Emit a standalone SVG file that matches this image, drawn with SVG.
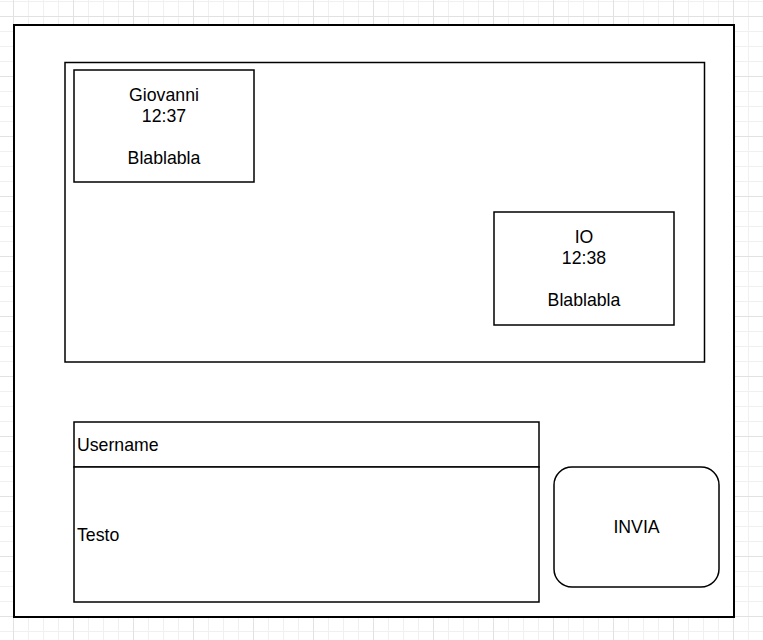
<svg xmlns="http://www.w3.org/2000/svg" width="763" height="640" viewBox="0 0 763 640">
  <style>
    .box { fill: #ffffff; stroke: #000000; stroke-width: 1.5; }
    .lbl { font-family: "Liberation Sans", Arial, sans-serif; font-size: 17.7px; fill: #000000; }
    .c { text-anchor: middle; }
  </style>
  <defs>
    <pattern id="grid" patternUnits="userSpaceOnUse" x="13" y="16" width="60" height="60">
      <rect x="0" y="0" width="60" height="60" fill="#ffffff"/>
      <rect x="15" y="0" width="1" height="60" fill="#f0f0f0"/>
      <rect x="30" y="0" width="1" height="60" fill="#f0f0f0"/>
      <rect x="45" y="0" width="1" height="60" fill="#f0f0f0"/>
      <rect x="0" y="15" width="60" height="1" fill="#f0f0f0"/>
      <rect x="0" y="30" width="60" height="1" fill="#f0f0f0"/>
      <rect x="0" y="45" width="60" height="1" fill="#f0f0f0"/>
      <rect x="0" y="0" width="1" height="60" fill="#e2e2e2"/>
      <rect x="0" y="0" width="60" height="1" fill="#e2e2e2"/>
    </pattern>
  </defs>
  <rect x="0" y="0" width="763" height="640" fill="url(#grid)"/>

  <g id="window">
    <rect class="box" x="14" y="25" width="720" height="592" style="stroke-width:2"/>
  </g>
  <g id="chat-area">
    <rect class="box" x="65" y="62.5" width="639.5" height="299.5"/>
  </g>
  <g id="msg-giovanni">
    <rect class="box" x="74" y="70" width="180" height="112"/>
    <text class="lbl c" x="164" y="100.8">Giovanni</text>
    <text class="lbl c" x="164" y="121.8">12:37</text>
    <text class="lbl c" x="164" y="163.8">Blablabla</text>
  </g>
  <g id="msg-io">
    <rect class="box" x="494" y="212" width="180" height="113"/>
    <text class="lbl c" x="584" y="243.3">IO</text>
    <text class="lbl c" x="584" y="264.3">12:38</text>
    <text class="lbl c" x="584" y="306.3">Blablabla</text>
  </g>
  <g id="username">
    <rect class="box" x="74" y="422" width="465" height="45"/>
    <text class="lbl" x="77" y="450.8">Username</text>
  </g>
  <g id="testo">
    <rect class="box" x="74" y="467" width="465" height="135"/>
    <text class="lbl" x="77" y="540.8">Testo</text>
  </g>
  <g id="invia">
    <rect class="box" x="554" y="467" width="165" height="120" rx="18" ry="18"/>
    <text class="lbl c" x="636.5" y="533.3">INVIA</text>
  </g>
  <g id="connectors"/>
</svg>
